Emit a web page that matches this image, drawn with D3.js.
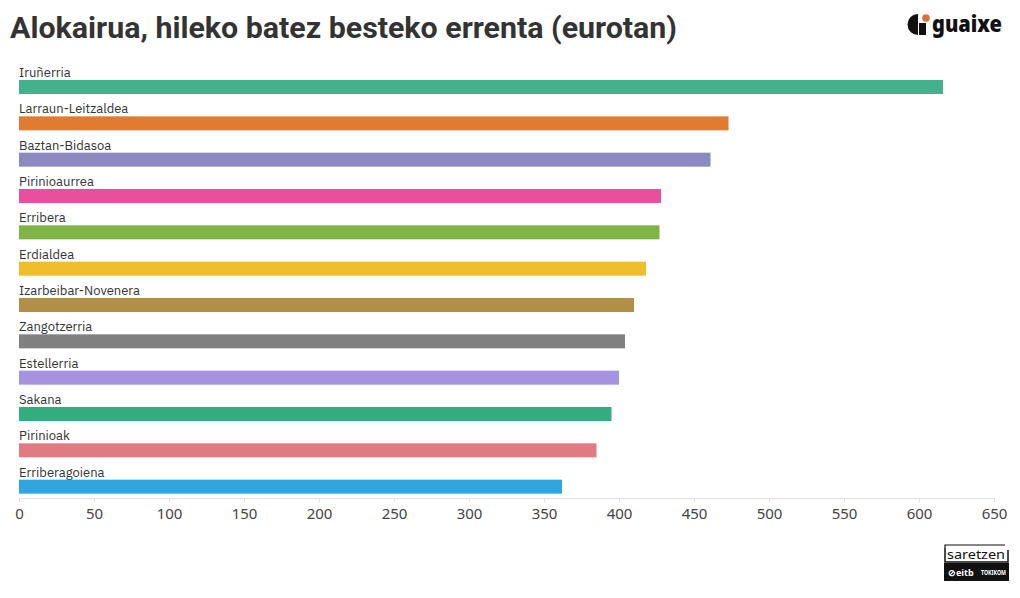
<!DOCTYPE html>
<html><head><meta charset="utf-8">
<script src="https://cdn.jsdelivr.net/npm/d3@7"></script>
<style>body{margin:0;background:#fff}svg{display:block}</style>
</head><body>
<svg id="c" width="1020" height="598"></svg>
<script>
const categories = ["Iruñerria","Larraun-Leitzaldea","Baztan-Bidasoa","Pirinioaurrea","Erribera","Erdialdea","Izarbeibar-Novenera","Zangotzerria","Estellerria","Sakana","Pirinioak","Erriberagoiena"];
const values = [616,473,461,428,427,418,410,404,400,395,385,362];
const colors = ["#45b08c","#e07b30","#8e88c0","#e94f9c","#80b446","#f0bd2c","#b38e45","#808080","#a592e0","#33ac7e","#e17b83","#30a6df"];
const ticks = [0,50,100,150,200,250,300,350,400,450,500,550,600,650];
const title = "Alokairua, hileko batez besteko errenta (eurotan)";

const svg = d3.select("#c");
const x = d3.scaleLinear().domain([0,650]).range([19,994]);
const y = d3.scaleBand().domain(categories).range([66,502]).paddingInner(0).paddingOuter(0);

svg.append("text").attr("x",10).attr("y",38).text(title)
  .attr("font-family","Roboto, 'Liberation Sans', sans-serif").attr("font-weight",700)
  .attr("font-size",29).attr("fill","#333")
  .attr("textLength",667).attr("lengthAdjust","spacingAndGlyphs");

// rows
const row = svg.append("g").selectAll("g").data(categories).join("g");
row.append("text").attr("x",19).attr("y",d=>y(d)+11).text(d=>d)
  .attr("font-family","'IBM Plex Sans','Noto Sans',sans-serif").attr("font-size",13).attr("fill","#333");
row.append("rect").attr("x",x(0)).attr("y",d=>y(d)+14).attr("height",14)
  .attr("width",(d,i)=>x(values[i])-x(0)).attr("fill",(d,i)=>colors[i]);

// axis
const ax = svg.append("g").attr("transform","translate(0,498)")
  .call(d3.axisBottom(x).tickValues(ticks).tickSize(4).tickPadding(6).tickFormat(d3.format("d")));
ax.select(".domain").attr("stroke","#e2e2e2");
ax.selectAll(".tick line").attr("stroke","#e2e2e2");
ax.selectAll(".tick text").attr("font-family","'Noto Sans',sans-serif").attr("font-size",15).attr("fill","#444");

// guaixe logo
const lg = svg.append("g");
lg.append("path").attr("d","M918,14 A10.5,10.5 0 0 0 918,35 Z").attr("fill","#111");
lg.append("rect").attr("x",919).attr("y",23).attr("width",7).attr("height",12).attr("fill","#111");
lg.append("circle").attr("cx",926).attr("cy",18).attr("r",3.8).attr("fill","#d9733a");
lg.append("text").attr("x",932).attr("y",32).text("guaixe")
  .attr("font-family","'Noto Sans',sans-serif").attr("font-weight",900).attr("font-size",22).attr("fill","#111")
  .attr("textLength",70).attr("lengthAdjust","spacingAndGlyphs");

// saretzen logo
const sg = svg.append("g");
sg.append("path").attr("d","M945,548 L945,562 L1008,562 L1008,550").attr("fill","none").attr("stroke","#111").attr("stroke-width",1.5);
sg.append("path").attr("d","M945,548 L945,545 L1005,545").attr("fill","none").attr("stroke","#111").attr("stroke-width",1.2);
sg.append("text").attr("x",976).attr("y",559).attr("text-anchor","middle").text("saretzen")
  .attr("font-family","'Noto Sans',sans-serif").attr("font-size",13).attr("fill","#111")
  .attr("textLength",58).attr("lengthAdjust","spacingAndGlyphs");
sg.append("rect").attr("x",944).attr("y",563).attr("width",65).attr("height",18).attr("fill","#111");
sg.append("text").attr("x",948).attr("y",576).text("⊘eitb")
  .attr("font-family","'Noto Sans',sans-serif").attr("font-weight",700).attr("font-size",9).attr("fill","#fff");
sg.append("text").attr("x",981).attr("y",575).text("TOKIKOM")
  .attr("font-family","'Liberation Sans Narrow','Noto Sans',sans-serif").attr("font-weight",700).attr("font-size",7).attr("fill","#fff")
  .attr("textLength",25).attr("lengthAdjust","spacingAndGlyphs");
</script>
</body></html>
